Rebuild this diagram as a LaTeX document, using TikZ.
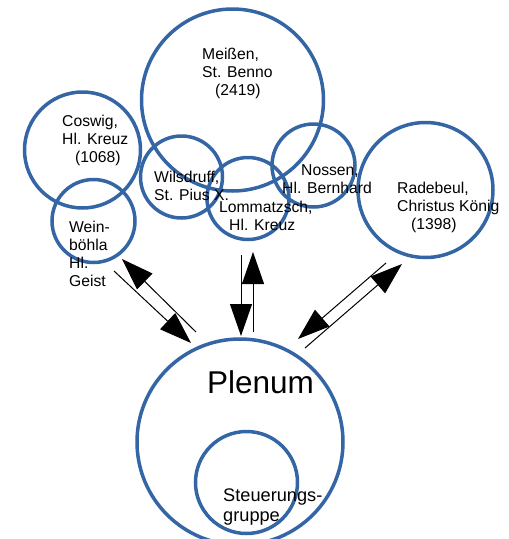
\documentclass[tikz,border=0pt]{standalone}
\usepackage{fontspec}
\setmainfont{Liberation Sans}
\usetikzlibrary{arrows.meta}

\newlength{\du}
\setlength{\du}{1pt}
\definecolor{kreisblau}{rgb}{0.204000, 0.396000, 0.643000}
\tikzset{
  kreis/.style={circle, draw=kreisblau, line width=3.5\du, inner sep=0pt},
  beschriftung/.style={anchor=north west, inner sep=0pt, align=left,
    font=\fontsize{15.7}{18}\selectfont},
  pfeil/.style={line width=1\du, -{Triangle[length=32pt,width=22pt]}}
}

\begin{document}
\begin{tikzpicture}
\pgftransformxscale{1.000000}
\pgftransformyscale{-1.000000}
\useasboundingbox (0\du,0\du) rectangle (509\du,539\du);
% Kreise der Gemeinden
\node[kreis, minimum size=182\du] (meissen) at (232.5\du,100\du){};
\node[kreis, minimum size=116\du] (coswig) at (82.5\du,150\du){};
\node[kreis, minimum size=83\du] (weinboehla) at (93.5\du,221\du){};
\node[kreis, minimum size=82\du] (wilsdruff) at (181.5\du,177\du){};
\node[kreis, minimum size=82\du] (lommatzsch) at (248\du,198.5\du){};
\node[kreis, minimum size=83\du] (nossen) at (313.5\du,165.5\du){};
\node[kreis, minimum size=135\du] (radebeul) at (425.5\du,190\du){};
% Plenum und Steuerungsgruppe
\node[kreis, minimum size=206\du] (plenum) at (240\du,442\du){};
\node[kreis, minimum size=102\du] (steuerung) at (246.5\du,482.5\du){};
% setfont left to latex
\node[beschriftung] (tmeissen) at (202\du,48.4\du){Meißen,\\St. Benno\\\hspace*{13\du}(2419)};
\node[beschriftung] (tcoswig) at (62\du,115.4\du){Coswig,\\Hl. Kreuz\\\hspace*{13\du}(1068)};
\node[beschriftung] (tweinboehla) at (69\du,221.4\du){Wein-\\böhla\\Hl.\\Geist};
\node[beschriftung] (twilsdruff) at (154\du,171.4\du){Wilsdruff,\\St. Pius X.};
\node[beschriftung] (tlommatzsch) at (219\du,201.4\du){Lommatzsch,\\\hspace*{10\du}Hl. Kreuz};
\node[beschriftung] (tnossen) at (282\du,164.4\du){\hspace*{19\du}Nossen,\\Hl. Bernhard};
\node[beschriftung] (tradebeul) at (397\du,182.4\du){Radebeul,\\Christus König\\\hspace*{14\du}(1398)};
\node[anchor=base west, inner sep=0pt, font=\fontsize{31.5}{36}\selectfont] (tplenum) at (207\du,393.3\du){Plenum};
\node[beschriftung, font=\fontsize{18.2}{20}\selectfont] (tsteuerung) at (223\du,488.5\du){Steuerungs-\\gruppe};
% Pfeile
\coordinate (a1s) at (114\du,271\du);
\coordinate (a1e) at (191\du,343\du);
\coordinate (a2s) at (196\du,332\du);
\coordinate (a2e) at (122\du,259\du);
\coordinate (b1s) at (241\du,255\du);
\coordinate (b1e) at (241\du,336\du);
\coordinate (b2s) at (253\du,332\du);
\coordinate (b2e) at (253\du,252\du);
\coordinate (c1s) at (305\du,348\du);
\coordinate (c1e) at (402\du,264\du);
\coordinate (c2s) at (386\du,263\du);
\coordinate (c2e) at (298\du,339\du);
\draw[pfeil] (a1s)--(a1e);
\draw[pfeil] (a2s)--(a2e);
\draw[pfeil] (b1s)--(b1e);
\draw[pfeil] (b2s)--(b2e);
\draw[pfeil] (c1s)--(c1e);
\draw[pfeil] (c2s)--(c2e);
\end{tikzpicture}
\end{document}
